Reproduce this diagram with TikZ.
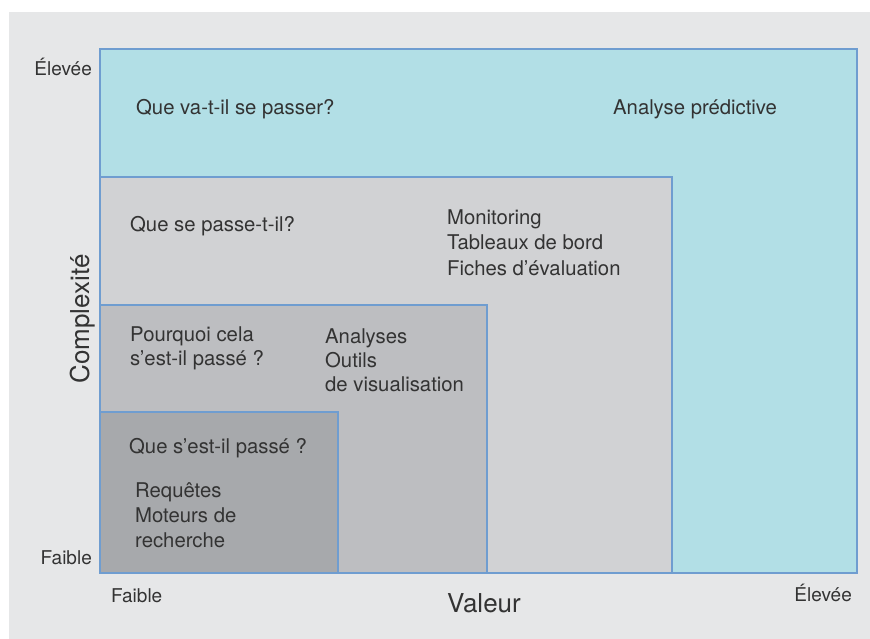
\documentclass[tikz,border=0pt]{standalone}
\usepackage{fontspec}
\setmainfont{TeX Gyre Heros}
\definecolor{bgc}{HTML}{E6E7E8}
\definecolor{cyanc}{HTML}{B2DFE6}
\definecolor{lgc}{HTML}{D1D2D4}
\definecolor{mgc}{HTML}{BDBEC1}
\definecolor{dgc}{HTML}{A7A9AC}
\definecolor{edgec}{HTML}{6F9DD0}
\definecolor{txtc}{HTML}{333333}
\begin{document}
\begin{tikzpicture}[x=1pt,y=-1pt,
  zone/.style={draw=edgec,line width=1.2pt},
  lbl/.style={anchor=base west,inner sep=0pt,text=txtc,font=\fontsize{20.3}{25}\selectfont},
  axl/.style={inner sep=0pt,text=txtc,font=\fontsize{19}{24}\selectfont},
  axt/.style={inner sep=0pt,text=txtc,font=\fontsize{26}{30}\selectfont}]
\useasboundingbox (0,0) rectangle (870,639);
\fill[white] (0,0) rectangle (870,639);
\fill[bgc] (9,12) rectangle (870,639);
\filldraw[zone,fill=cyanc] (100,49) rectangle (857,573);
\filldraw[zone,fill=lgc] (100,177) rectangle (672,573);
\filldraw[zone,fill=mgc] (100,305) rectangle (487,573);
\filldraw[zone,fill=dgc] (100,412) rectangle (338,573);
% texts
\node[lbl] (q1) at (136,115) {Que va-t-il se passer?};
\node[lbl] (a1) at (613,115) {Analyse prédictive};
\node[lbl] (q2) at (130,232) {Que se passe-t-il?};
\node[lbl] (m1) at (447,225) {Monitoring};
\node[lbl] (m2) at (447,250) {Tableaux de bord};
\node[lbl] (m3) at (447,275) {Fiches d’évaluation};
\node[lbl] (q3a) at (130,341) {Pourquoi cela};
\node[lbl] (q3b) at (130,365) {s’est-il passé ?};
\node[lbl] (o1) at (325,343) {Analyses};
\node[lbl] (o2) at (325,367) {Outils};
\node[lbl] (o3) at (325,391) {de visualisation};
\node[lbl] (q4) at (129,453) {Que s’est-il passé ?};
\node[lbl] (r1) at (135,497) {Requêtes};
\node[lbl] (r2) at (135,522) {Moteurs de};
\node[lbl] (r3) at (135,547) {recherche};
% axes
\node[axl,anchor=base east] (yhi) at (92,76) {Élevée};
\node[axl,anchor=base east] (ylo) at (92,564) {Faible};
\node[axl,anchor=base west] (xlo) at (111,602) {Faible};
\node[axl,anchor=base east] (xhi) at (852,601) {Élevée};
\node[axt,anchor=base] (xt) at (484,612) {Valeur};
\node[axt,anchor=base,rotate=90] (yt) at (89,319) {Complexité};
\end{tikzpicture}
\end{document}
